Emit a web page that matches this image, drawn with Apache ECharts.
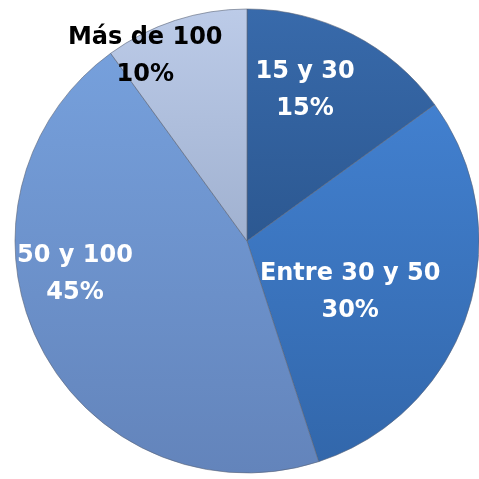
<!DOCTYPE html>
<html><head><meta charset="utf-8">
<script src="https://cdn.jsdelivr.net/npm/echarts@6/dist/echarts.min.js"></script>
<style>html,body{margin:0;padding:0;background:#fff}#c{width:479px;height:479px}</style>
</head><body><div id="c"></div>
<script>
const categories = ['15 y 30', 'Entre 30 y 50', '50 y 100', 'Más de 100'];
const values = [15, 30, 45, 10];
const colorsTop = ['#386aab', '#4280cf', '#76a0dc', '#bccbe8'];
const colorsBot = ['#2c5891', '#3267ab', '#6384bb', '#a0b1d0'];
const labelColors = ['#ffffff', '#ffffff', '#ffffff', '#000000'];
const labelShift = [[4, -45], [-10, 14], [-66, -21], [-65, -72]];

const chart = echarts.init(document.getElementById('c'));
chart.setOption({
  animation: false,
  series: [{
    type: 'pie',
    center: [247, 241],
    radius: [0, 232],
    startAngle: 90,
    clockwise: true,
    silent: true,
    data: categories.map((n, i) => ({
      name: n, value: values[i],
      itemStyle: {
        color: new echarts.graphic.LinearGradient(0, 0, 0, 1, [
          {offset: 0, color: colorsTop[i]}, {offset: 1, color: colorsBot[i]}
        ]),
        borderColor: 'rgba(90,100,120,0.6)', borderWidth: 1
      },
      label: {color: labelColors[i]}
    })),
    label: {
      show: true, position: 'inside',
      formatter: p => p.name + '\n' + p.percent + '%',
      fontFamily: 'DejaVu Sans', fontWeight: 'bold', fontSize: 24, lineHeight: 37,
      align: 'center'
    },
    labelLine: {show: false},
    labelLayout: p => ({dx: labelShift[p.dataIndex][0], dy: labelShift[p.dataIndex][1]})
  }]
});
</script></body></html>
